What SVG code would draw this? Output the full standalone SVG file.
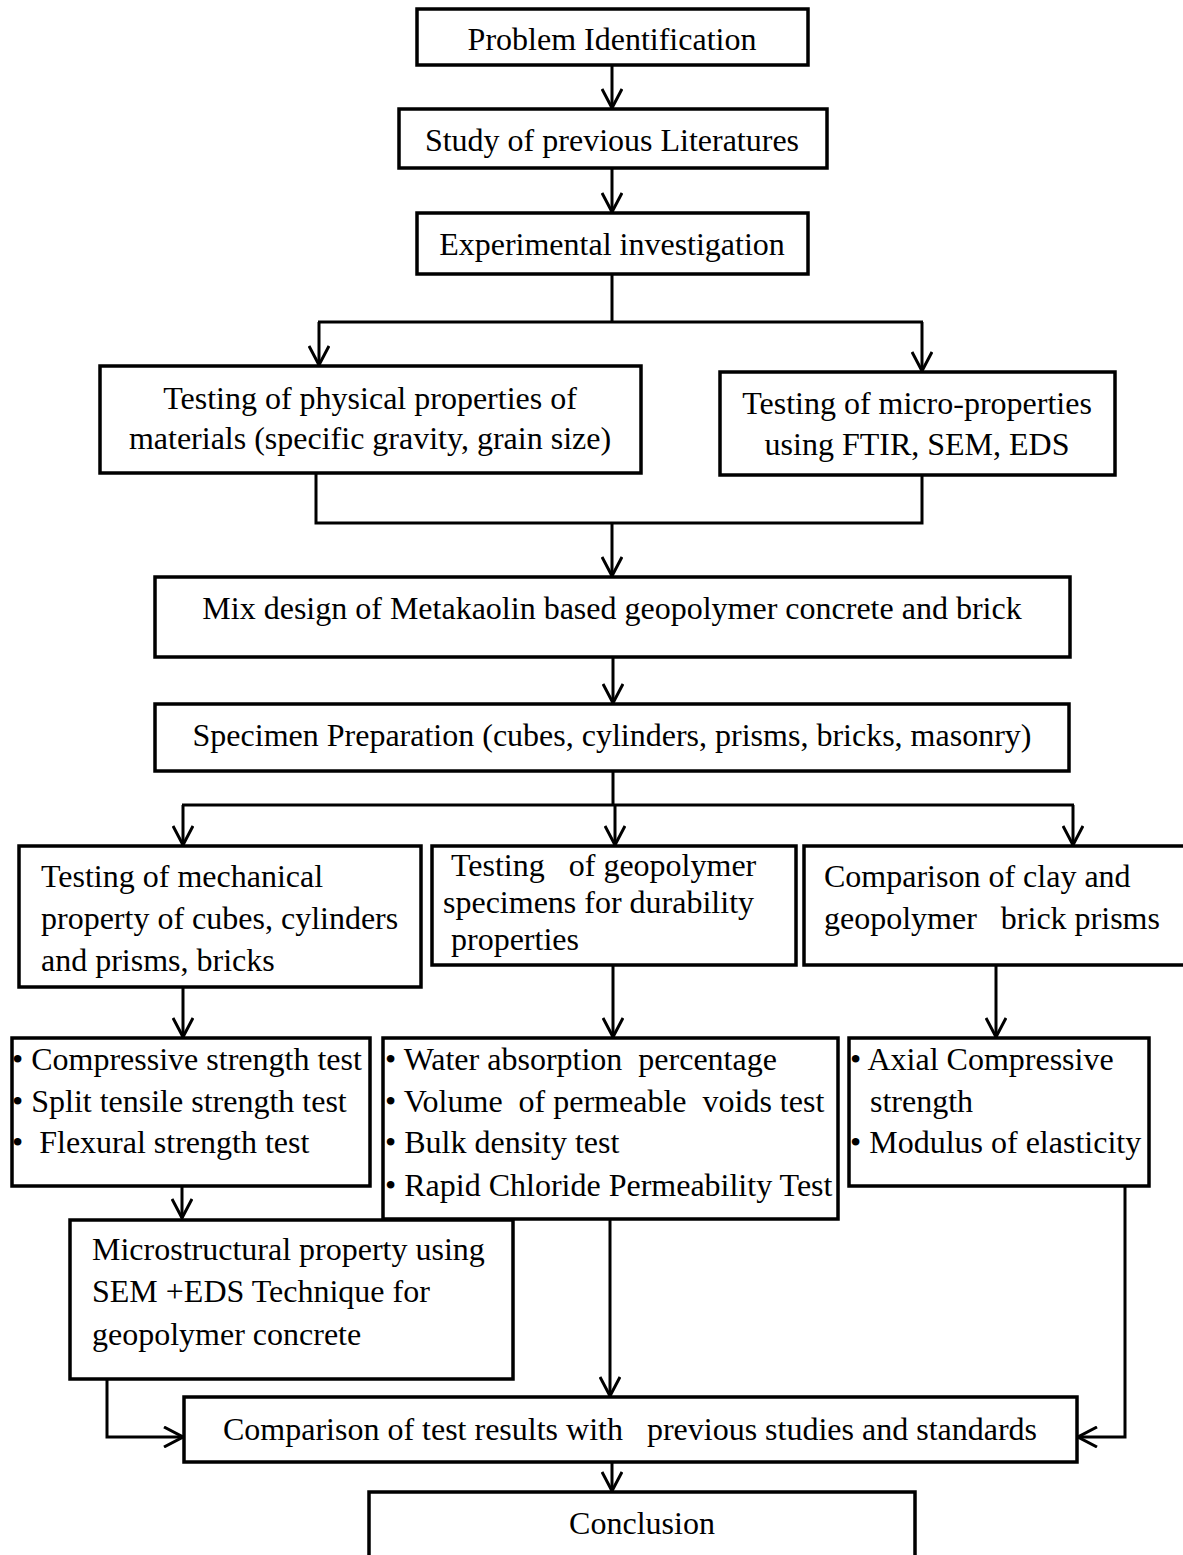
<svg xmlns="http://www.w3.org/2000/svg" width="1183" height="1555" viewBox="0 0 1183 1555">
<defs>
<marker id="arr" viewBox="0 0 22 22" refX="20" refY="11" markerWidth="22" markerHeight="22" markerUnits="userSpaceOnUse" orient="auto">
<path d="M1,1 L20,11 L1,21" fill="none" stroke="#000" stroke-width="3"/>
</marker>
<style>
.box{fill:#fff;stroke:#000;stroke-width:3.5}
.t{font-family:"Liberation Serif","Times New Roman",serif;font-size:32px;fill:#000}
.c{text-anchor:middle}
.ln{fill:none;stroke:#000;stroke-width:3}
.ar{fill:none;stroke:#000;stroke-width:3;marker-end:url(#arr)}
</style>
</defs>
<rect width="1183" height="1555" fill="#fff"/>

<g id="connectors">
<line class="ar" x1="612" y1="65" x2="612" y2="108"/>
<line class="ar" x1="612" y1="168" x2="612" y2="212"/>
<line class="ln" x1="612" y1="274" x2="612" y2="322"/>
<line class="ln" x1="318" y1="322" x2="923" y2="322"/>
<line class="ar" x1="319" y1="322" x2="319" y2="365"/>
<line class="ar" x1="922" y1="322" x2="922" y2="371"/>
<polyline class="ln" points="316,473 316,523 922,523 922,475"/>
<line class="ar" x1="612" y1="523" x2="612" y2="576"/>
<line class="ar" x1="613" y1="657" x2="613" y2="703"/>
<line class="ln" x1="613" y1="771" x2="613" y2="805"/>
<line class="ln" x1="182" y1="805" x2="1074" y2="805"/>
<line class="ar" x1="183" y1="805" x2="183" y2="845"/>
<line class="ar" x1="615" y1="805" x2="615" y2="845"/>
<line class="ar" x1="1073" y1="805" x2="1073" y2="845"/>
<line class="ar" x1="183" y1="987" x2="183" y2="1037"/>
<line class="ar" x1="613" y1="965" x2="613" y2="1037"/>
<line class="ar" x1="996" y1="965" x2="996" y2="1037"/>
<line class="ar" x1="182" y1="1186" x2="182" y2="1218"/>
<line class="ar" x1="610" y1="1220" x2="610" y2="1396"/>
<polyline class="ar" points="107,1379 107,1437 183,1437"/>
<polyline class="ar" points="1125,1186 1125,1437 1078,1437"/>
<line class="ar" x1="612" y1="1462" x2="612" y2="1491"/>
</g>

<g id="n1"><rect class="box" x="417" y="9" width="391" height="56"/>
<text class="t c" x="612" y="50">Problem Identification</text></g>

<g id="n2"><rect class="box" x="399" y="109" width="428" height="59"/>
<text class="t c" x="612" y="151">Study of previous Literatures</text></g>

<g id="n3"><rect class="box" x="417" y="213" width="391" height="61"/>
<text class="t c" x="612" y="255">Experimental investigation</text></g>

<g id="n4"><rect class="box" x="100" y="366" width="541" height="107"/>
<text class="t c" x="370" y="409">Testing of physical properties of</text>
<text class="t c" x="370" y="449">materials (specific gravity, grain size)</text></g>

<g id="n5"><rect class="box" x="720" y="372" width="395" height="103"/>
<text class="t c" x="917" y="414">Testing of micro-properties</text>
<text class="t c" x="917" y="455">using FTIR, SEM, EDS</text></g>

<g id="n6"><rect class="box" x="155" y="577" width="915" height="80"/>
<text class="t c" x="612" y="619">Mix design of Metakaolin based geopolymer concrete and brick</text></g>

<g id="n7"><rect class="box" x="155" y="704" width="914" height="67"/>
<text class="t c" x="612" y="746">Specimen Preparation (cubes, cylinders, prisms, bricks, masonry)</text></g>

<g id="n8"><rect class="box" x="19" y="846" width="402" height="141"/>
<text class="t" x="41" y="887">Testing of mechanical</text>
<text class="t" x="41" y="929">property of cubes, cylinders</text>
<text class="t" x="41" y="971">and prisms, bricks</text></g>

<g id="n9"><rect class="box" x="432" y="846" width="364" height="119"/>
<text class="t" x="451" y="876" xml:space="preserve">Testing   of geopolymer</text>
<text class="t" x="443" y="913">specimens for durability</text>
<text class="t" x="451" y="950">properties</text></g>

<g id="n10"><rect class="box" x="804" y="846" width="385" height="119"/>
<text class="t" x="824" y="887">Comparison of clay and</text>
<text class="t" x="824" y="929" xml:space="preserve">geopolymer   brick prisms</text></g>

<g id="n11"><rect class="box" x="12" y="1038" width="358" height="148"/>
<text class="t" x="12" y="1070">• Compressive strength test</text>
<text class="t" x="12" y="1112">• Split tensile strength test</text>
<text class="t" x="12" y="1153" xml:space="preserve">•  Flexural strength test</text></g>

<g id="n13"><rect class="box" x="70" y="1220" width="443" height="159"/>
<text class="t" x="92" y="1260">Microstructural property using</text>
<text class="t" x="92" y="1302">SEM +EDS Technique for</text>
<text class="t" x="92" y="1345">geopolymer concrete</text></g>

<g id="n12"><rect class="box" x="383" y="1038" width="455" height="181"/>
<text class="t" x="385" y="1070" xml:space="preserve">• Water absorption  percentage</text>
<text class="t" x="385" y="1112" xml:space="preserve">• Volume  of permeable  voids test</text>
<text class="t" x="385" y="1153">• Bulk density test</text>
<text class="t" x="385" y="1196">• Rapid Chloride Permeability Test</text></g>

<g id="n14"><rect class="box" x="849" y="1038" width="300" height="148"/>
<text class="t" x="850" y="1070">• Axial Compressive</text>
<text class="t" x="870" y="1112">strength</text>
<text class="t" x="850" y="1153">• Modulus of elasticity</text></g>

<g id="n15"><rect class="box" x="184" y="1397" width="893" height="65"/>
<text class="t c" x="630" y="1440" xml:space="preserve">Comparison of test results with   previous studies and standards</text></g>

<g id="n16"><rect class="box" x="369" y="1492" width="546" height="80"/>
<text class="t c" x="642" y="1534">Conclusion</text></g>
</svg>
